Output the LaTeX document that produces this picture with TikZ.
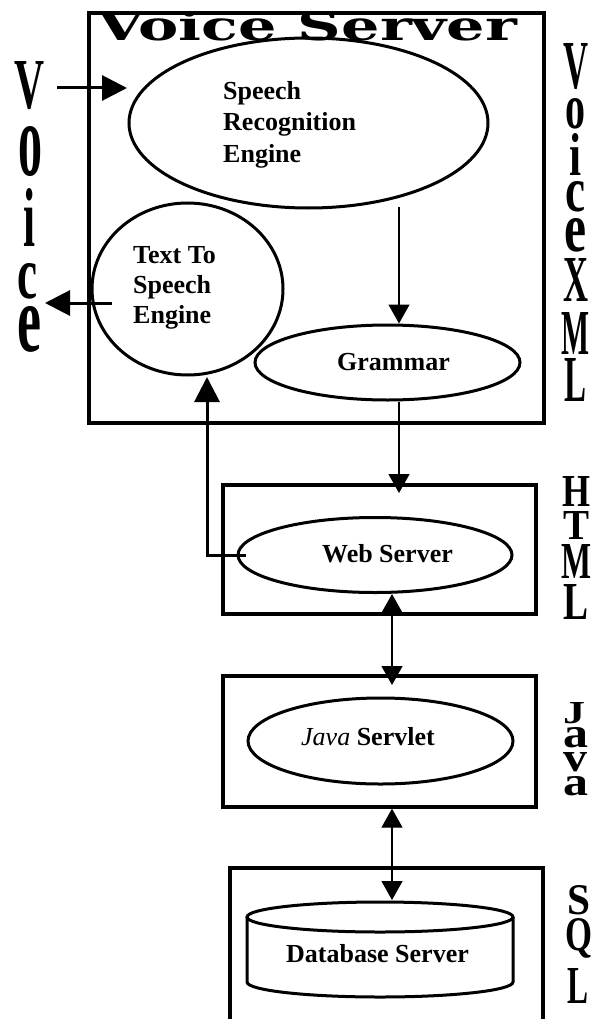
\documentclass[tikz,border=0pt]{standalone}
\usepackage{fontspec}
\usepackage{graphicx}
\setmainfont{Liberation Serif}
\newfontfamily\titlefont{DejaVu Serif}
\usetikzlibrary{arrows.meta,shapes.geometric,calc}

% a bold letter squeezed into a given width and height (in pt)
\newcommand\stretchletter[3]{\resizebox{#1pt}{#2pt}{\bfseries #3}}

\tikzset{
  frame/.style={draw, rectangle, line width=3.3pt, inner sep=0pt},
  oval/.style={ellipse, draw, line width=3pt, inner sep=0pt},
  caption/.style={font=\bfseries\fontsize{26}{31.5}\selectfont, inner sep=0pt, align=left},
  thinlink/.style={line width=1.3pt, -{Triangle[length=19pt,width=21pt]}},
  bothlink/.style={line width=1.3pt, {Triangle[length=19pt,width=21pt]}-{Triangle[length=19pt,width=21pt]}},
  thicklink/.style={line width=3pt, -{Triangle[length=25pt,width=25pt]}},
  vletter/.style={inner sep=0pt, anchor=north},
}

\begin{document}
\begin{tikzpicture}[x=1pt,y=-1pt]
\useasboundingbox (0,0) rectangle (595,1019);

% ---- Voice Server frame and its heading ----
\begin{scope}
  \clip (89,13) rectangle (544,423);
  \node[inner sep=0pt, anchor=south west] (title) at (97,41)
    {\resizebox{420pt}{31pt}{\titlefont\bfseries Voice Server}};
\end{scope}
\node[frame, minimum width=455pt, minimum height=410pt] (vsbox) at (316.5,218) {};

% ---- engines inside the voice server ----
\node[oval, minimum width=359pt, minimum height=170pt] (sre) at (308.5,123) {};
\node[caption, anchor=north west] (sretext) at (223,81) {Speech\\Recognition\\Engine};

\node[oval, minimum width=191pt, minimum height=172pt] (tts) at (187.5,289) {};
\node[caption, font=\bfseries\fontsize{26}{30}\selectfont, anchor=north west] (ttstext) at (133,246) {Text To\\Speech\\Engine};

\node[oval, minimum width=265pt, minimum height=75pt] (grammar) at (387.5,362.5) {};
\node[caption, anchor=base west] (gtext) at (337,370) {Grammar};

% ---- web tier ----
\node[frame, minimum width=313pt, minimum height=129pt] (htmlbox) at (379.5,549.5) {};
\node[oval, minimum width=274pt, minimum height=75pt] (web) at (375,555) {};
\node[caption, anchor=base west] (wtext) at (322,562) {Web Server};

% ---- servlet tier ----
\node[frame, minimum width=313pt, minimum height=131pt] (javabox) at (379.5,741.5) {};
\node[oval, minimum width=265pt, minimum height=86pt] (servlet) at (380.5,741) {};
\node[caption, anchor=base west] (jtext) at (301,745) {{\mdseries\itshape Java} Servlet};

% ---- database tier (frame runs off the bottom) ----
\draw[line width=3.3pt] (230,1030) |- (543,868) -- (543,1030);
\draw[line width=3pt] (247,917) -- (247,982)
  arc[start angle=180, end angle=0, x radius=133, y radius=15] -- (513,917);
\draw[line width=3pt] (380,917) ellipse[x radius=133, y radius=15];
\node[caption, anchor=base west] (dbtext) at (286,962) {Database Server};

% ---- connectors ----
\coordinate (vinA) at (57,88);
\coordinate (vinB) at (127,88);
\draw[thicklink] (vinA) -- (vinB);

\coordinate (voutA) at (112,303);
\coordinate (voutB) at (45,303);
\draw[thicklink] (voutA) -- (voutB);

\coordinate (sg) at (399,207);
\draw[thinlink] (sg) -- (sg |- grammar.north);

\coordinate (htmlin) at (399,493);
\draw[thinlink] (grammar.south -| sg) -- (htmlin);

\coordinate (ttsin) at (207,377);
\draw[thicklink] ($(web.west)+(9,0)$) -| (ttsin);

\coordinate (wj) at (392,685);
\draw[bothlink] (web.south -| wj) -- (wj);

\coordinate (dbtop) at (392,900);
\draw[bothlink] (javabox.south -| wj) -- (dbtop);

% ---- vertical side labels ----
\node[vletter] (l1) at (30,61)  {\stretchletter{30}{47}{V}};
\node[vletter] (l2) at (30,126) {\stretchletter{24}{49}{o}};
\node[vletter] (l3) at (29,188) {\stretchletter{12}{58}{i}};
\node[vletter] (l4) at (28,263) {\stretchletter{20}{35}{c}};
\node[vletter] (l5) at (30,306) {\stretchletter{24}{45}{e}};

\node[vletter] (r1) at (575.5,43)  {\stretchletter{25}{45}{V}};
\node[vletter] (r2) at (575.5,98)  {\stretchletter{20}{30}{o}};
\node[vletter] (r3) at (575.5,133) {\stretchletter{12}{42}{i}};
\node[vletter] (r4) at (575.5,181) {\stretchletter{20}{30}{c}};
\node[vletter] (r5) at (575.5,218) {\stretchletter{22}{33}{e}};
\node[vletter] (r6) at (575.5,258) {\stretchletter{25}{43}{X}};
\node[vletter] (r7) at (575.5,312) {\stretchletter{28}{42}{M}};
\node[vletter] (r8) at (575.5,358) {\stretchletter{22}{43}{L}};

\node[vletter] (h1) at (576,476) {\stretchletter{28}{30}{H}};
\node[vletter] (h2) at (576,511) {\stretchletter{26}{28}{T}};
\node[vletter] (h3) at (576,544) {\stretchletter{30}{34}{M}};
\node[vletter] (h4) at (576,584) {\stretchletter{25}{35}{L}};

\node[vletter] (j1) at (574,702)   {\stretchletter{22}{21}{J}};
\node[vletter] (j2) at (575.5,727) {\stretchletter{25}{20}{a}};
\node[vletter] (j3) at (575,752)   {\stretchletter{24}{19}{v}};
\node[vletter] (j4) at (575.5,776) {\stretchletter{25}{19}{a}};

\node[vletter] (s1) at (578.5,885) {\stretchletter{23}{29}{S}};
\node[vletter] (s2) at (578.5,918) {\stretchletter{27}{32}{Q}};
\node[vletter] (s3) at (577.5,968) {\stretchletter{21}{35}{L}};
\end{tikzpicture}
\end{document}
